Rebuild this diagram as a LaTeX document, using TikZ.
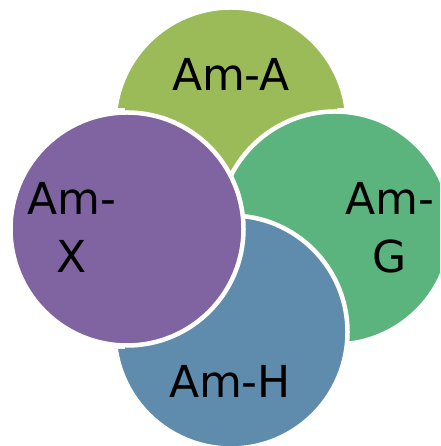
\documentclass[tikz,border=0pt]{standalone}
\usepackage{fontspec}
\setmainfont{DejaVu Sans}
\definecolor{cTop}{HTML}{9BBB59}
\definecolor{cRight}{HTML}{5BB37E}
\definecolor{cBottom}{HTML}{5F8CAC}
\definecolor{cLeft}{HTML}{8064A2}
\tikzset{
  petal/.style={circle, draw=white, line width=4.5pt, minimum size=233pt, inner sep=0pt},
  lbl/.style={font=\fontsize{44}{58}\selectfont, text=black, inner sep=0pt, align=center}
}
\begin{document}
\begin{tikzpicture}[x=1pt,y=1pt]
\useasboundingbox (0,0) rectangle (440,446);
\clip (0,0) rectangle (440,446);
\begin{scope}
  \clip (0,338) rectangle (440,446) (125,0) rectangle (337,446);
  \node[petal, fill=cTop] (top) at (231,322) {};
\end{scope}
\node[petal, fill=cRight] (right) at (335,218) {};
\begin{scope}
  \clip (0,0) rectangle (440,97) (125,0) rectangle (440,446);
  \node[petal, fill=cBottom] (bottom) at (231,114) {};
\end{scope}
\node[petal, fill=cLeft] (left) at (127,217) {};
\node[lbl, anchor=base] (tA) at (231,355) {Am-A};
\node[lbl, anchor=base] (tH) at (230,48) {Am-H};
\node[lbl, anchor=base] (tX) at (72,173) {Am-\\X};
\node[lbl, anchor=base] (tG) at (390,173) {Am-\\G};
\end{tikzpicture}
\end{document}
